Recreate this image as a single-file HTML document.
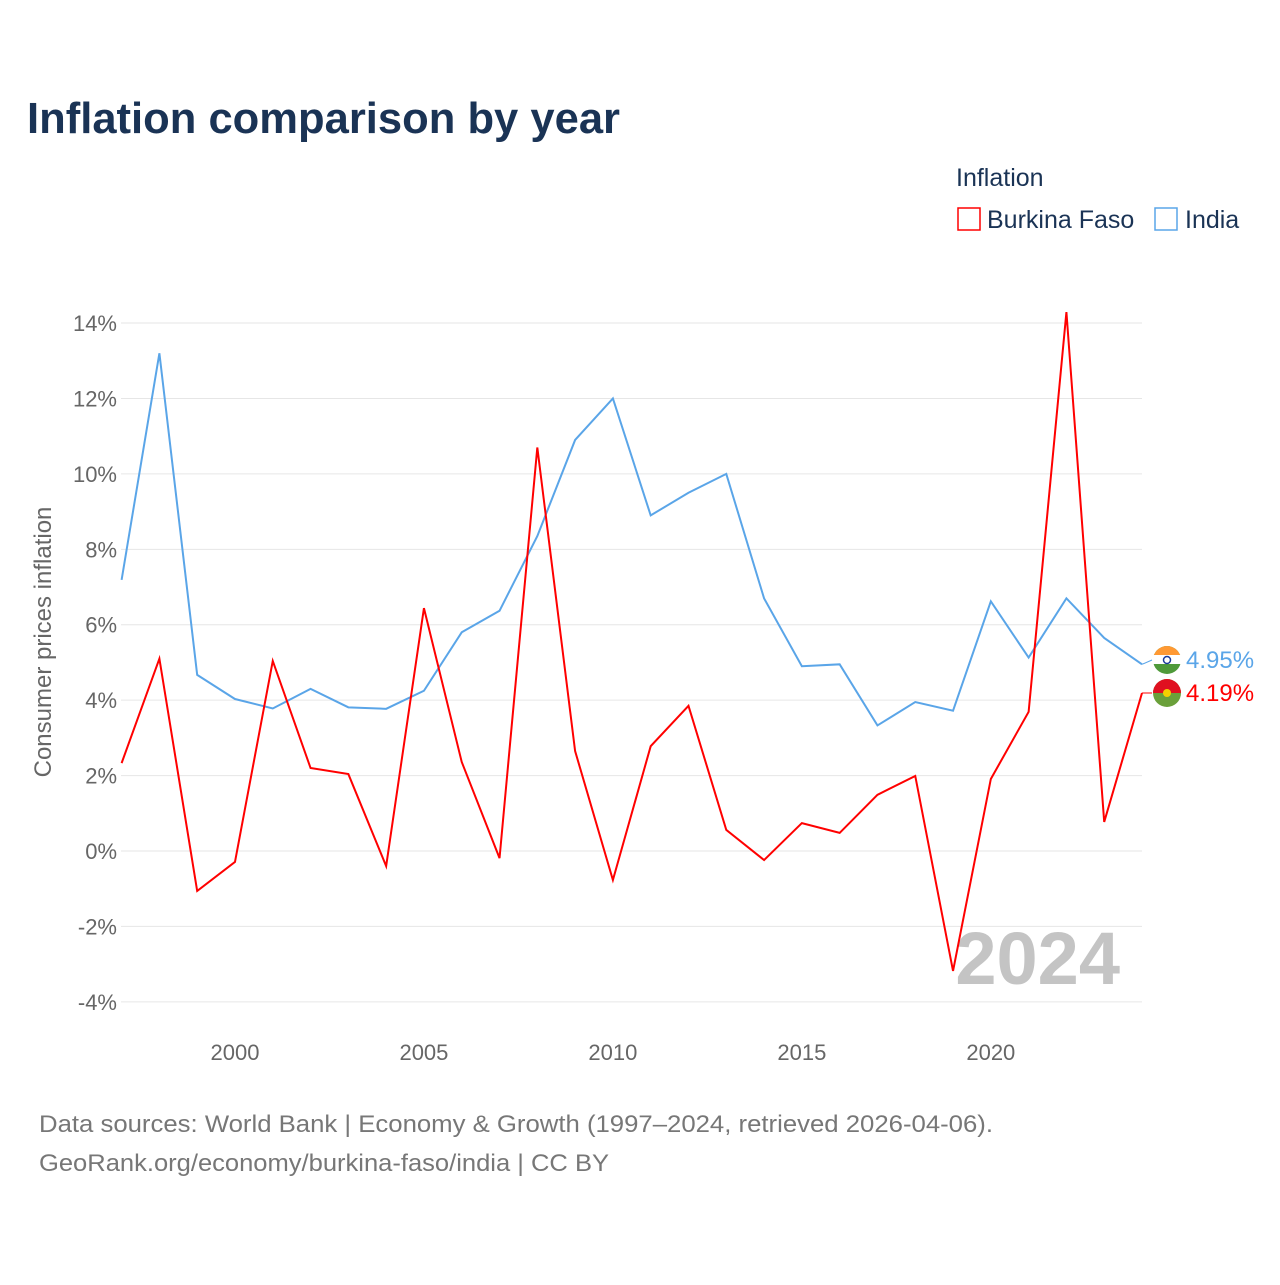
<!DOCTYPE html>
<html><head><meta charset="utf-8">
<style>
html,body{margin:0;padding:0;background:#fff;}
body{width:1280px;height:1280px;position:relative;overflow:hidden;font-family:"Liberation Sans",sans-serif;}
</style></head>
<body>
<svg id="chart" width="1280" height="1280" xmlns="http://www.w3.org/2000/svg">
  <text x="27" y="133" font-size="44" font-weight="bold" fill="#1a3355" textLength="593" lengthAdjust="spacingAndGlyphs">Inflation comparison by year</text>
  <text x="956" y="186" font-size="25" fill="#1a3355">Inflation</text>
  <g>
    <rect x="958" y="208" width="22" height="22" fill="none" stroke="#ff0000" stroke-width="1.5"/>
    <text x="987" y="228" font-size="25" fill="#1a3355">Burkina Faso</text>
  </g>
  <g>
    <rect x="1155" y="208" width="22" height="22" fill="none" stroke="#5aa5e8" stroke-width="1.5"/>
    <text x="1185" y="228" font-size="25" fill="#1a3355">India</text>
  </g>
  <g id="grid"></g>
  <g id="yticks"></g>
  <g id="xticks"></g>
  <text transform="translate(51,642) rotate(-90)" text-anchor="middle" font-size="24" fill="#666">Consumer prices inflation</text>
  <text x="1120" y="984" text-anchor="end" font-size="74" font-weight="bold" fill="#c4c4c4">2024</text>
  <g id="series"></g>
  <text x="39" y="1132" font-size="24" fill="#777" textLength="954" lengthAdjust="spacingAndGlyphs">Data sources: World Bank | Economy &amp; Growth (1997–2024, retrieved 2026-04-06).</text>
  <text x="39" y="1171" font-size="24" fill="#777" textLength="570" lengthAdjust="spacingAndGlyphs">GeoRank.org/economy/burkina-faso/india | CC BY</text>
</svg>
<script>
const years = [1997,1998,1999,2000,2001,2002,2003,2004,2005,2006,2007,2008,2009,2010,2011,2012,2013,2014,2015,2016,2017,2018,2019,2020,2021,2022,2023,2024];
const india = [7.19,13.2,4.67,4.03,3.78,4.3,3.81,3.77,4.25,5.8,6.37,8.35,10.9,12.0,8.9,9.5,10.0,6.7,4.9,4.95,3.33,3.95,3.72,6.62,5.13,6.7,5.65,4.95];
const burkina = [2.33,5.1,-1.06,-0.29,5.04,2.2,2.04,-0.4,6.44,2.36,-0.19,10.7,2.65,-0.77,2.78,3.85,0.56,-0.24,0.74,0.48,1.49,1.99,-3.18,1.91,3.69,14.29,0.77,4.19];
const yTicks = [-4,-2,0,2,4,6,8,10,12,14];
const xTicks = [2000,2005,2010,2015,2020];

const NS="http://www.w3.org/2000/svg";
const xs = y => 121.6 + (y-1997)*(1142-121.6)/27;
const ys = v => 851 - v*37.71;
function mk(tag, attrs, parent){const e=document.createElementNS(NS,tag);for(const k in attrs)e.setAttribute(k,attrs[k]);parent.appendChild(e);return e;}
const grid=document.getElementById('grid'), yt=document.getElementById('yticks'), xt=document.getElementById('xticks'), ser=document.getElementById('series');
yTicks.forEach(t=>{
  const l=mk('line',{x1:121,x2:1142,y1:ys(t),y2:ys(t),stroke:'#e6e6e6','stroke-width':1},grid);
  
  
  const tx=mk('text',{x:117,y:ys(t)+8,'text-anchor':'end','font-size':22,fill:'#666'},yt);
  tx.textContent=t+'%';
  
  
});
xTicks.forEach(t=>{
  const tx=mk('text',{x:xs(t),y:1060,'text-anchor':'middle','font-size':22,fill:'#666'},xt);
  tx.textContent=t;
  
  
});
function line(vals,color,name){
  const p=mk('polyline',{points:vals.map((v,i)=>xs(years[i])+','+ys(v)).join(' '),fill:'none',stroke:color,'stroke-width':2,'stroke-linejoin':'miter'},ser);
  
  
}
line(india,'#5aa5e8','india-line');
line(burkina,'#ff0000','burkina-faso-line');
const last=years.length-1;
function endLabel(v,ly,color,name,top,bottom,dot){
  const x0=xs(years[last]);
  mk('line',{x1:x0,y1:ys(v),x2:1152,y2:ly,stroke:color,'stroke-width':1},ser);
  const g=mk('g',{},ser);
  
  
  mk('circle',{cx:1167,cy:ly,r:14,fill:bottom},g);
  mk('path',{d:`M1153 ${ly} A14 14 0 0 1 1181 ${ly} Z`,fill:top},g);
  if(dot) mk('circle',{cx:1167,cy:ly,r:4,fill:dot},g);
  const t=mk('text',{x:1186,y:ly+8,'font-size':24,fill:color},ser);
  t.textContent=v.toFixed(2)+'%';
  
  
}
endLabel(india[last],660,'#5aa5e8','india','#ff9933','#4f9a3a',null);
mk('rect',{x:1153,y:655,width:28,height:9,fill:'#ffffff'},ser);
mk('circle',{cx:1167,cy:660,r:3.5,fill:'none',stroke:'#1a3a9a','stroke-width':1.5},ser);
endLabel(burkina[last],693,'#ff0000','burkina-faso','#e01020','#6aa03a','#f5d000');
</script>
</body></html>
